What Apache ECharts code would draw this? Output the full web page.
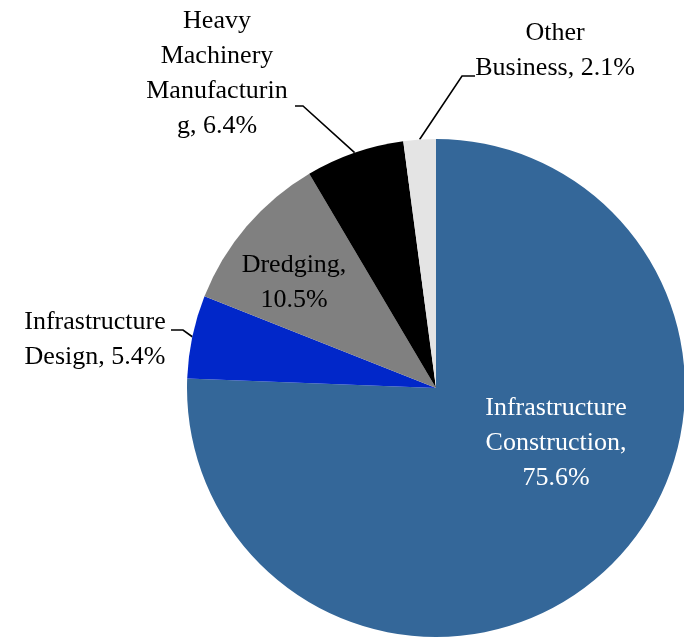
<!DOCTYPE html>
<html>
<head>
<meta charset="utf-8">
<title>Business segments</title>
<script src="https://cdn.jsdelivr.net/npm/echarts@6/dist/echarts.min.js"></script>
<style>
  html, body { margin: 0; padding: 0; background: #ffffff; }
  #chart { width: 684px; height: 638px; }
</style>
</head>
<body>
<div id="chart"></div>
<script>
// Segment names (with the line breaks used in their labels) and shares in percent
const segmentNames = [
  'Infrastructure Construction',
  'Infrastructure Design',
  'Dredging',
  'Heavy Machinery Manufacturing',
  'Other Business'
];
const labelPrefixes = [
  'Infrastructure\nConstruction,\n',
  'Infrastructure\nDesign, ',
  'Dredging,\n',
  'Heavy\nMachinery\nManufacturin\ng, ',
  'Other\nBusiness, '
];
const shares = [75.6, 5.4, 10.5, 6.4, 2.1];
const sliceColors = ['#346799', '#0127c9', '#808080', '#000000', '#e4e4e4'];
const labelColors = ['#ffffff', '#000000', '#000000', '#000000', '#000000'];
const insideLabel = [true, false, true, false, false];

// Where each label block sits, and the elbow of its leader line
const labelSpots = [
  { x: 556, y: 443 },
  { x: 95, y: 340, line: [[183, 330], [171, 330]] },
  { x: 294, y: 283 },
  { x: 217, y: 74, line: [[303, 106], [295, 106]] },
  { x: 555, y: 51, line: [[462, 76], [475, 76]] }
];

const chart = echarts.init(document.getElementById('chart'), null, { renderer: 'canvas' });

const data = segmentNames.map((name, i) => ({
  name: name,
  value: shares[i],
  itemStyle: { color: sliceColors[i] },
  label: {
    position: insideLabel[i] ? 'inside' : 'outside',
    color: labelColors[i]
  },
  labelLine: { show: !insideLabel[i] }
}));

chart.setOption({
  animation: false,
  backgroundColor: '#ffffff',
  series: [{
    type: 'pie',
    center: [436, 388],
    radius: 249,
    startAngle: 90,
    clockwise: true,
    avoidLabelOverlap: false,
    itemStyle: { borderWidth: 0 },
    label: {
      fontFamily: '"Liberation Serif", "Times New Roman", serif',
      fontSize: 26,
      lineHeight: 35,
      align: 'center',
      formatter: function (p) {
        return labelPrefixes[p.dataIndex] + p.value.toFixed(1) + '%';
      }
    },
    labelLine: {
      length: 20,
      length2: 10,
      lineStyle: { color: '#000000', width: 1.6 }
    },
    labelLayout: function (p) {
      const spot = labelSpots[p.dataIndex];
      const out = { x: spot.x, y: spot.y, align: 'center', verticalAlign: 'middle' };
      if (spot.line && p.labelLinePoints) {
        out.labelLinePoints = [p.labelLinePoints[0], spot.line[0], spot.line[1]];
      }
      return out;
    },
    data: data
  }]
});
</script>
</body>
</html>
